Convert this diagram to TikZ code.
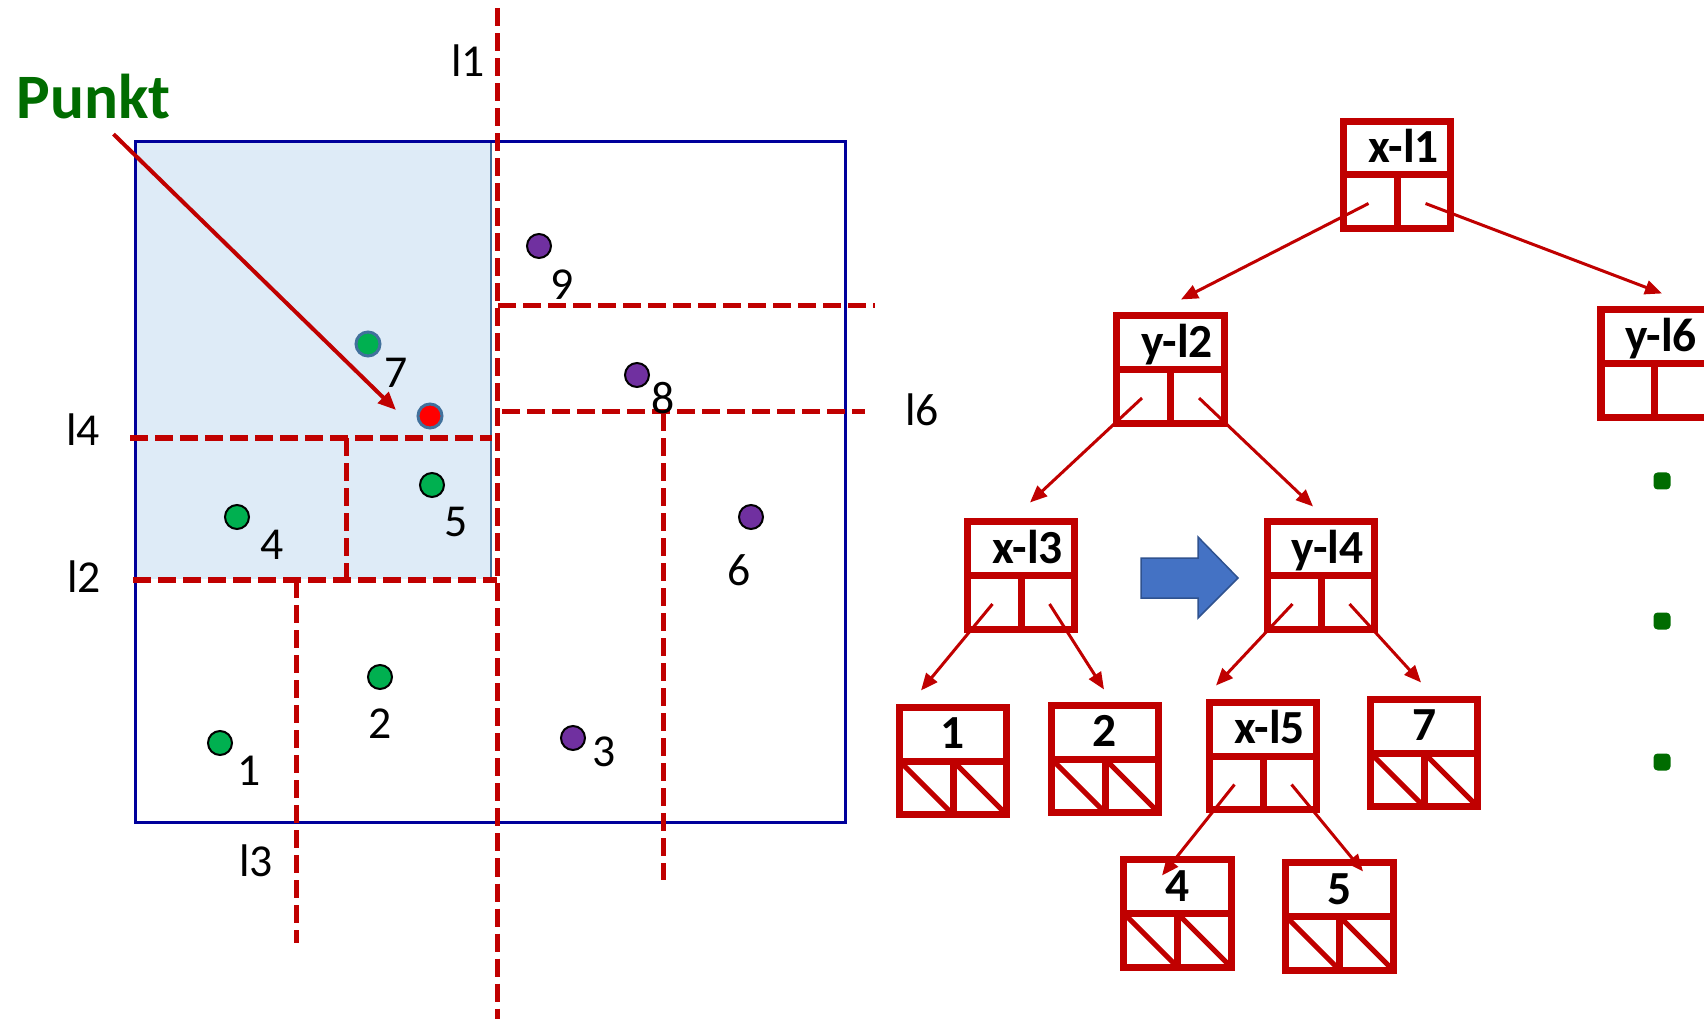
\documentclass[tikz,border=0pt]{standalone}
\usepackage{fontspec}
\setmainfont{Carlito}
\usetikzlibrary{arrows.meta, calc}

\definecolor{kdred}{RGB}{192,0,0}
\definecolor{boxblue}{RGB}{0,0,155}
\definecolor{shadeblue}{RGB}{222,235,247}
\definecolor{shadeedge}{RGB}{65,113,156}
\definecolor{ptgreen}{RGB}{0,176,80}
\definecolor{ptpurple}{RGB}{112,48,160}
\definecolor{punktgreen}{RGB}{0,108,0}
\definecolor{stepblue}{RGB}{68,114,196}
\definecolor{stepedge}{RGB}{47,82,143}

\begin{document}
\begin{tikzpicture}[
    x=0.01cm, y=-0.01cm,
    every node/.style={font=\fontsize{13}{15}\selectfont},
    region/.style={draw=boxblue, line width=0.03cm},
    split/.style={draw=kdred, line width=0.05cm, dash pattern=on 0.18cm off 0.07cm},
    pt/.style={circle, draw=black, line width=0.02cm, minimum size=0.24cm, inner sep=0pt},
    query/.style={pt, draw=shadeedge, line width=0.03cm},
    ptlabel/.style={inner sep=0pt},
    kdbox/.style={draw=kdred, line width=0.07cm, minimum width=1.07cm, minimum height=1.07cm,
        inner sep=0pt, text height=0.3cm, text depth=0.54cm,
        font=\fontsize{13.5}{15}\selectfont\bfseries,
        path picture={
            \draw[kdred, line width=0.07cm]
                (path picture bounding box.west) -- (path picture bounding box.east)
                (path picture bounding box.center) -- (path picture bounding box.south);
        }},
    kdinner/.style={kdbox, execute at begin node={\hspace{0.13cm}}},
    kdleaf/.style={kdbox,
        path picture={
            \draw[kdred, line width=0.07cm]
                (path picture bounding box.west) -- (path picture bounding box.east)
                (path picture bounding box.center) -- (path picture bounding box.south);
            \draw[kdred, line width=0.05cm]
                (path picture bounding box.west) -- (path picture bounding box.south)
                (path picture bounding box.center) -- (path picture bounding box.south east);
        }},
    link/.style={kdred, line width=0.03cm, -{Triangle[length=0.17cm, width=0.14cm]}},
    pointer/.style={kdred, line width=0.04cm, -{Triangle[length=0.18cm, width=0.15cm]}}
]
\useasboundingbox (0,0) rectangle (1704,1019);

% ---- Gebiet und Suchbereich ----
\fill[shadeblue] (135,142) rectangle (491,579);
\draw[shadeedge, line width=0.02cm] (491,142) -- (491,579);
\draw[region] (135,142) rectangle (845,822);

% ---- Trennlinien ----
\draw[split] (497,8) -- (497,1019);
\draw[split] (133,580) -- (497,580);
\draw[split] (130,438) -- (492,438);
\draw[split] (346,438) -- (346,580);
\draw[split] (296,580) -- (296,943);
\draw[split] (498,306) -- (875,306);
\draw[split] (502,412) -- (865,412);
\draw[split] (663,413) -- (663,880);

\node (l1) at (468,61) {l1};
\node (l2) at (84,577) {l2};
\node (l3) at (256,861) {l3};
\node (l4) at (83,430) {l4};
\node (l6) at (922,410) {l6};

% ---- Punkte ----
\node[pt, fill=ptgreen]  (p1) at (220,743) {};
\node[pt, fill=ptgreen]  (p2) at (380,677) {};
\node[pt, fill=ptpurple] (p3) at (573,738) {};
\node[pt, fill=ptgreen]  (p4) at (237,517) {};
\node[pt, fill=ptgreen]  (p5) at (432,485) {};
\node[pt, fill=ptpurple] (p6) at (751,517) {};
\node[query, fill=ptgreen] (p7) at (368,344) {};
\node[pt, fill=ptpurple] (p8) at (637,375) {};
\node[pt, fill=ptpurple] (p9) at (539,246) {};
\node[query, fill=red]   (q)  at (430,416) {};

\node[ptlabel] (n1) at (249,771) {1};
\node[ptlabel] (n2) at (380,724) {2};
\node[ptlabel] (n3) at (604,752) {3};
\node[ptlabel] (n4) at (272,545) {4};
\node[ptlabel] (n5) at (456,522) {5};
\node[ptlabel] (n6) at (739,570) {6};
\node[ptlabel] (n7) at (396,373) {7};
\node[ptlabel] (n8) at (663,398) {8};
\node[ptlabel] (n9) at (562,285) {9};

\node[font=\fontsize{18}{21}\selectfont\bfseries, text=punktgreen, anchor=base west, inner sep=0pt]
    (punkt) at (16,119) {Punkt};
\draw[pointer] ($(punkt.south)+(20,14)$) -- ($(q)+(-34,-6)$);

% ---- kd-Baum ----
\node[kdinner] (xl1) at (1397,175)   {x-l1};
\node[kdinner] (yl2) at (1170.5,369.5) {y-l2};
\node[kdinner] (yl6) at (1654.5,363.5) {y-l6};
\node[kdinner] (xl3) at (1021,575.5) {x-l3};
\node[kdinner] (yl4) at (1321,575.5) {y-l4};
\node[kdinner] (xl5) at (1263,756)   {x-l5};
\node[kdleaf]  (k1)  at (953,761)    {1};
\node[kdleaf]  (k2)  at (1105,759)   {2};
\node[kdleaf]  (k7)  at (1424,753)   {7};
\node[kdleaf]  (k4)  at (1177.5,913.5) {4};
\node[kdleaf]  (k5)  at (1339.5,916.5) {5};

\draw[link] ($(xl1.center)!.5!(xl1.south west)$) -- ($(yl2.north)+(10.5,-13)$);
\draw[link] ($(xl1.center)!.5!(xl1.south east)$) -- ($(yl6.north)+(7.5,-13)$);
\draw[link] ($(yl2.center)!.5!(yl2.south west)$) -- ($(xl3.north)+(9,-16)$);
\draw[link] ($(yl2.center)!.5!(yl2.south east)$) -- ($(yl4.north)+(-8,-12)$);
\draw[link] ($(xl3.center)!.5!(xl3.south west)$) -- ($(k1.north)+(-32,-13.5)$);
\draw[link] ($(xl3.center)!.5!(xl3.south east)$) -- ($(k2.north)+(-1,-12.5)$);
\draw[link] ($(yl4.center)!.5!(yl4.south west)$) -- ($(xl5.north)+(-47,-13.5)$);
\draw[link] ($(yl4.center)!.5!(yl4.south east)$) -- ($(k7.north)+(-3,-13.5)$);
\draw[link] ($(xl5.center)!.5!(xl5.south west)$) -- ($(k4.north)+(-15.5,19)$);
\draw[link] ($(xl5.center)!.5!(xl5.south east)$) -- ($(k5.north)+(23.5,12)$);

% ---- Pfeil zwischen den Teilbaeumen ----
\draw[fill=stepblue, draw=stepedge, line width=0.015cm]
    (1141,558) -- (1198,558) -- (1198,537) -- (1238,578) -- (1198,618) -- (1198,598) -- (1141,598) -- cycle;

% ---- Aufzaehlungspunkte ----
\foreach \y in {481,621,762}
    \fill[punktgreen, rounded corners=0.04cm] (1653.5,\y-8.5) rectangle ++(17,17);

\end{tikzpicture}
\end{document}
